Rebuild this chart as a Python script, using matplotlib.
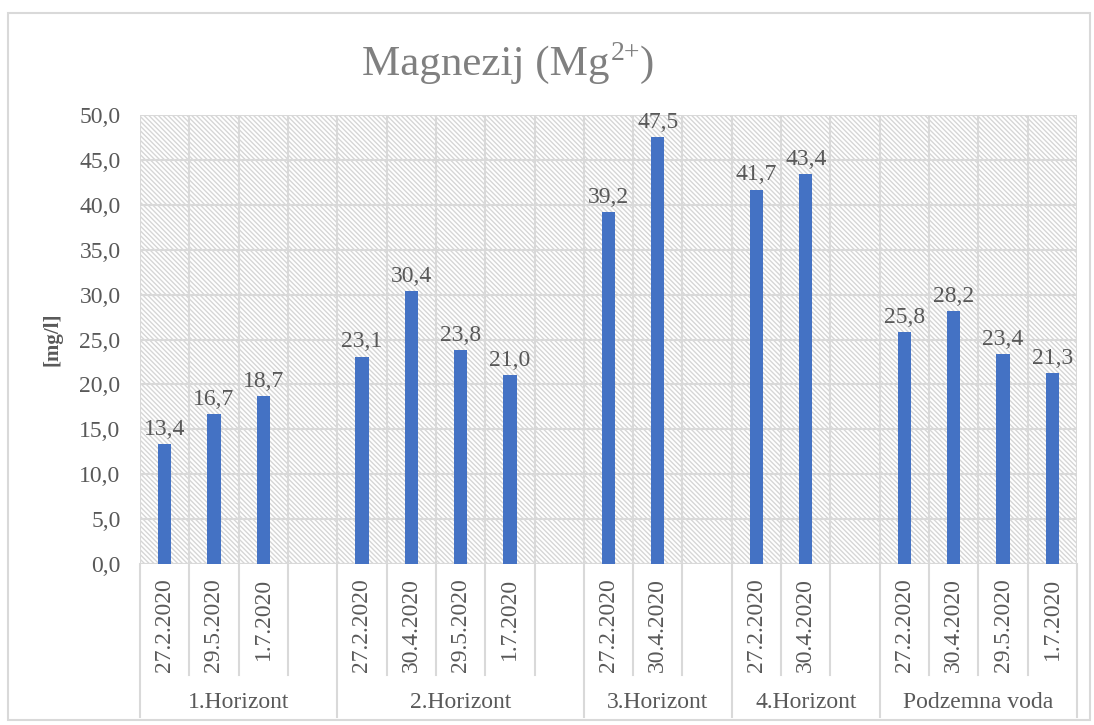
import numpy as np
import matplotlib.pyplot as plt
import matplotlib.transforms as mtransforms
from matplotlib.patches import Rectangle

plt.rcParams['font.family'] = ['Liberation Serif', 'DejaVu Serif']
plt.rcParams['hatch.color'] = '#d6d6d6'
plt.rcParams['hatch.linewidth'] = 1.0

# kategorije (prazan string = prazno mjesto iza grupe)
groups = ['1.Horizont', '2.Horizont', '3.Horizont', '4.Horizont', 'Podzemna voda']
dates = [
    ['27.2.2020', '29.5.2020', '1.7.2020', ''],
    ['27.2.2020', '30.4.2020', '29.5.2020', '1.7.2020', ''],
    ['27.2.2020', '30.4.2020', ''],
    ['27.2.2020', '30.4.2020', ''],
    ['27.2.2020', '30.4.2020', '29.5.2020', '1.7.2020'],
]
values = [
    [13.4, 16.7, 18.7, np.nan],
    [23.1, 30.4, 23.8, 21.0, np.nan],
    [39.2, 47.5, np.nan],
    [41.7, 43.4, np.nan],
    [25.8, 28.2, 23.4, 21.3],
]

text_col = '#595959'
grid_col = '#d9d9d9'

labels = [d for g in dates for d in g]
vals = np.array([v for g in values for v in g])
x = np.arange(len(labels))

fig = plt.figure(figsize=(10.94, 7.25), dpi=100)
ax = fig.add_axes([140 / 1094, 1 - 564 / 725, 937 / 1094, 449 / 725])

# šrafirana pozadina
ax.add_patch(Rectangle((0, 0), 1, 1, transform=ax.transAxes, facecolor='white',
                       edgecolor='#d6d6d6', hatch='\\' * 7, linewidth=0, zorder=0))

ax.bar(x, vals, width=0.27, color='#4472C4', zorder=3)
for xi, v in zip(x, vals):
    if not np.isnan(v):
        ax.annotate(f'{v:.1f}'.replace('.', ','), (xi, v), xytext=(0, 3),
                    textcoords='offset points', ha='center', va='bottom',
                    fontsize=17, color=text_col, zorder=4)

ax.set_xlim(-0.5, len(labels) - 0.5)
ax.set_ylim(0, 50)
ax.set_yticks(np.arange(0, 50.1, 5))
ax.set_yticklabels([f'{t:.1f}'.replace('.', ',') for t in np.arange(0, 50.1, 5)],
                   fontsize=17, color=text_col)
ax.tick_params(axis='y', length=0, pad=14)
ax.set_xticks([])
ax.grid(axis='y', color=grid_col, linewidth=1.5, zorder=1)
for b in np.arange(-0.5, len(labels), 1):
    ax.axvline(b, color=grid_col, linewidth=1.5, zorder=1)
for s in ax.spines.values():
    s.set_visible(False)
ax.axhline(0, color=grid_col, linewidth=1.5, zorder=2)

ax.set_ylabel('[mg/l]', fontsize=15, fontweight='bold', color=text_col, labelpad=12)

# dvorazinska kategorijska os
trans = mtransforms.blended_transform_factory(ax.transData, fig.transFigure)
y_axis = 1 - 564 / 725
y_date_line = 1 - 675 / 725
y_group_line = 1 - 717 / 725
for xi, lab in zip(x, labels):
    ax.text(xi, 1 - 578 / 725, lab, transform=trans, rotation=90, ha='center',
            va='top', fontsize=17, color=text_col)
start = 0
for g, d in zip(groups, dates):
    end = start + len(d)
    for b in range(start + 1, end):
        ax.plot([b - 0.5, b - 0.5], [y_axis, y_date_line], transform=trans,
                color=grid_col, linewidth=1.5, clip_on=False)
    ax.plot([start - 0.5, start - 0.5], [y_axis, y_group_line], transform=trans,
            color=grid_col, linewidth=1.5, clip_on=False)
    ax.text((start + end - 1) / 2, 1 - 703 / 725, g, transform=trans, ha='center',
            va='center', fontsize=17, color=text_col)
    start = end
ax.plot([start - 0.5, start - 0.5], [y_axis, y_group_line], transform=trans,
        color=grid_col, linewidth=1.5, clip_on=False)

# naslov sa superskriptom (u dijelovima)
title_col = '#808080'
renderer = fig.canvas.get_renderer()
tx = 362
ty = 725 - 75
t1 = fig.text(tx / 1094, ty / 725, 'Magnezij (Mg', ha='left', va='baseline',
              fontsize=31, color=title_col)
tx = t1.get_window_extent(renderer).x1 + 1
t2 = fig.text(tx / 1094, (ty + 15) / 725, '2+', ha='left', va='baseline',
              fontsize=20, color=title_col)
tx = t2.get_window_extent(renderer).x1
fig.text(tx / 1094, ty / 725, ')', ha='left', va='baseline', fontsize=31, color=title_col)

fig.patches.append(Rectangle((8 / 1094, 5 / 725), 1082 / 1094, 707 / 725,
                             transform=fig.transFigure, fill=False,
                             edgecolor=grid_col, linewidth=1.5))

fig.savefig('out.png', dpi=100)
